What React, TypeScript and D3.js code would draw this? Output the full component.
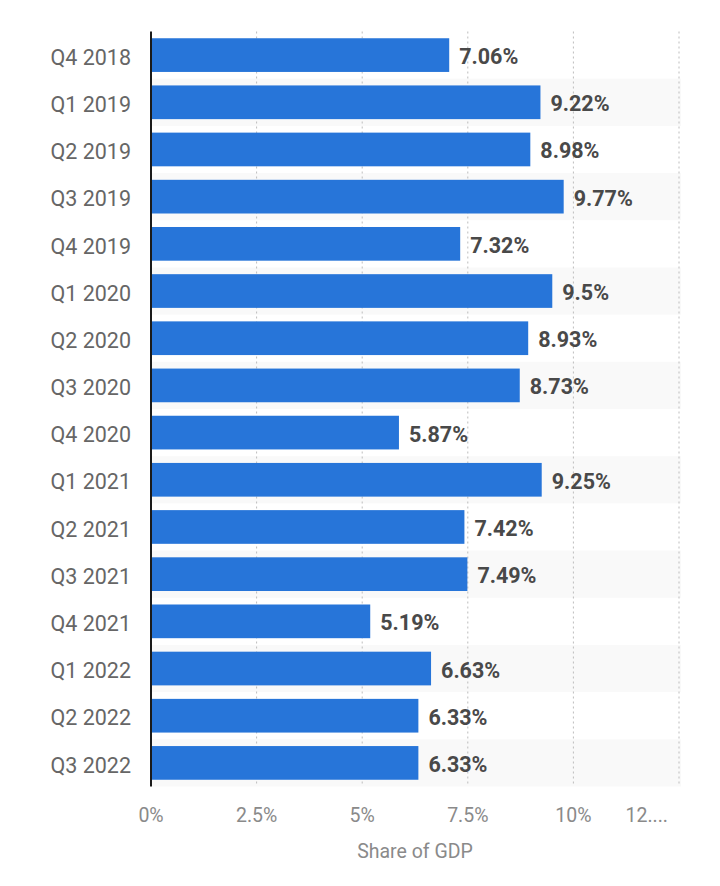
import { useEffect, useRef } from 'react';
import * as d3 from 'd3';

const quarters = [
  'Q4 2018', 'Q1 2019', 'Q2 2019', 'Q3 2019', 'Q4 2019', 'Q1 2020', 'Q2 2020', 'Q3 2020',
  'Q4 2020', 'Q1 2021', 'Q2 2021', 'Q3 2021', 'Q4 2021', 'Q1 2022', 'Q2 2022', 'Q3 2022',
];
const shareOfGdp = [7.06, 9.22, 8.98, 9.77, 7.32, 9.5, 8.93, 8.73, 5.87, 9.25, 7.42, 7.49, 5.19, 6.63, 6.33, 6.33];
const tickValues = [0, 2.5, 5, 7.5, 10, 12.5];
const tickLabels = ['0%', '2.5%', '5%', '7.5%', '10%', '12....'];

const WIDTH = 720;
const HEIGHT = 886;
const FONT = 'Roboto, "Noto Sans", sans-serif';

export default function App() {
  const svgRef = useRef<SVGSVGElement>(null);

  useEffect(() => {
    if (!svgRef.current) return;
    const svg = d3.select(svgRef.current);
    svg.selectAll('*').remove();

    const left = 151;
    const right = 679;
    const top = 31.5;
    const bottom = 786.5;

    const x = d3.scaleLinear().domain([0, 12.5]).range([left, right]);
    const y = d3.scaleBand<string>()
      .domain(quarters)
      .range([top, bottom])
      .paddingInner(0.286)
      .paddingOuter(0.143);

    const step = y.step();
    const bw = y.bandwidth();

    // alternating row backgrounds
    svg.append('g')
      .selectAll('rect')
      .data(quarters.filter((_, i) => i % 2 === 1))
      .enter()
      .append('rect')
      .attr('x', left)
      .attr('width', right - left + 2)
      .attr('y', d => (y(d) || 0) + bw / 2 - step / 2)
      .attr('height', step)
      .attr('fill', '#f9f9f9');

    // dotted grid
    svg.append('g')
      .selectAll('line')
      .data(tickValues.slice(1))
      .enter()
      .append('line')
      .attr('x1', d => x(d))
      .attr('x2', d => x(d))
      .attr('y1', top)
      .attr('y2', bottom)
      .attr('stroke', '#bdbdbd')
      .attr('stroke-width', 1)
      .attr('stroke-dasharray', '2,3');

    // bars
    svg.append('g')
      .selectAll('rect')
      .data(shareOfGdp)
      .enter()
      .append('rect')
      .attr('x', x(0))
      .attr('y', (_, i) => y(quarters[i]) || 0)
      .attr('width', d => x(d) - x(0))
      .attr('height', bw)
      .attr('fill', '#2775d9');

    // value labels
    svg.append('g')
      .selectAll('text')
      .data(shareOfGdp)
      .enter()
      .append('text')
      .attr('x', d => x(d) + 10)
      .attr('y', (_, i) => (y(quarters[i]) || 0) + bw / 2)
      .attr('dy', '0.42em')
      .style('font-family', FONT)
      .style('font-size', '21.5px')
      .style('font-weight', '700')
      .style('fill', '#494949')
      .text(d => `${d}%`);

    // category labels
    svg.append('g')
      .selectAll('text')
      .data(quarters)
      .enter()
      .append('text')
      .attr('x', 131)
      .attr('y', d => (y(d) || 0) + bw / 2)
      .attr('dy', '0.45em')
      .attr('text-anchor', 'end')
      .style('font-family', FONT)
      .style('font-size', '21.5px')
      .style('fill', '#666666')
      .text(d => d);

    // axis line
    svg.append('line')
      .attr('x1', left)
      .attr('x2', left)
      .attr('y1', top)
      .attr('y2', bottom)
      .attr('stroke', '#1a1a1a')
      .attr('stroke-width', 2);

    // x tick labels
    svg.append('g')
      .selectAll('text')
      .data(tickValues)
      .enter()
      .append('text')
      .attr('x', (d, i) => (i === tickValues.length - 1 ? x(d) - 11 : x(d)))
      .attr('y', 815)
      .attr('dy', '0.36em')
      .attr('text-anchor', (_, i) => (i === tickValues.length - 1 ? 'end' : 'middle'))
      .style('font-family', FONT)
      .style('font-size', '19.5px')
      .style('fill', '#8a8a8a')
      .text((_, i) => tickLabels[i]);

    svg.append('text')
      .attr('x', x(6.25))
      .attr('y', 851)
      .attr('dy', '0.36em')
      .attr('text-anchor', 'middle')
      .style('font-family', FONT)
      .style('font-size', '19.5px')
      .style('fill', '#8a8a8a')
      .text('Share of GDP');
  }, []);

  return (
    <div style={{ position: 'absolute', left: 0, top: 0, width: WIDTH, height: HEIGHT, background: '#fff' }}>
      <svg ref={svgRef} width={WIDTH} height={HEIGHT} style={{ display: 'block' }} />
    </div>
  );
}
